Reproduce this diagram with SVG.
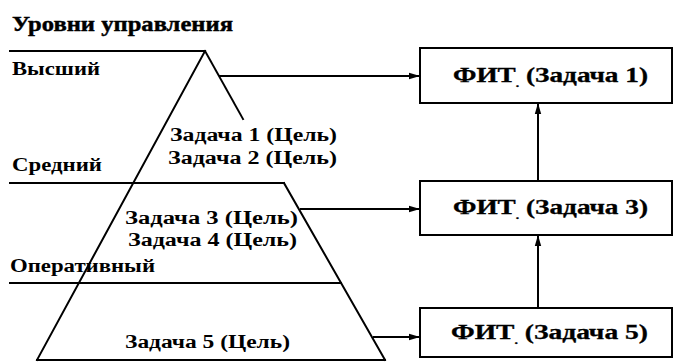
<svg xmlns="http://www.w3.org/2000/svg" width="677" height="363" viewBox="0 0 677 363">
  <style>
    .ln { stroke: #000; stroke-width: 2; fill: none; stroke-linecap: square; }
    .box { stroke: #000; stroke-width: 2; fill: #fff; }
    .lbl { font-family: "Liberation Serif", "Times New Roman", serif; font-size: 18px; font-weight: bold; fill: #000; }
    .task { font-family: "Liberation Serif", "Times New Roman", serif; font-size: 18px; font-weight: bold; fill: #000; }
    .ttl { font-family: "Liberation Serif", "Times New Roman", serif; font-size: 20px; font-weight: bold; fill: #000; stroke: #000; stroke-width: 0.4; }
    .bt { font-family: "Liberation Serif", "Times New Roman", serif; font-size: 20px; font-weight: bold; fill: #000; stroke: #000; stroke-width: 0.3; }
    .con { stroke: #000; stroke-width: 2; fill: none; }
  </style>
  <defs>
    <marker id="ah" markerUnits="userSpaceOnUse" markerWidth="12" markerHeight="8" refX="11" refY="4" orient="auto">
      <path d="M0,0.8 L11,4 L0,7.2 z" fill="#000"/>
    </marker>
  </defs>

  <rect width="677" height="363" fill="#fff"/>

  <!-- title -->
  <text class="ttl" x="12" y="31" textLength="221" lengthAdjust="spacingAndGlyphs">Уровни управления</text>

  <!-- pyramid of management levels -->
  <g id="pyramid">
    <line class="ln" x1="10" y1="51" x2="205" y2="51"/>
    <line class="ln" x1="205" y1="51" x2="37" y2="360"/>
    <line class="ln" x1="205" y1="51" x2="243" y2="119"/>
    <line class="ln" x1="10" y1="183" x2="284" y2="183"/>
    <line class="ln" x1="284" y1="183" x2="385" y2="360"/>
    <line class="ln" x1="10" y1="283" x2="341" y2="283"/>
    <line class="ln" x1="37" y1="360" x2="385" y2="360"/>

    <text class="lbl" x="12" y="75" textLength="88" lengthAdjust="spacingAndGlyphs">Высший</text>
    <text class="lbl" x="12" y="171" textLength="90" lengthAdjust="spacingAndGlyphs">Средний</text>
    <text class="lbl" x="10" y="272" textLength="145" lengthAdjust="spacingAndGlyphs">Оперативный</text>

    <text class="task" x="170" y="141" textLength="167" lengthAdjust="spacingAndGlyphs">Задача 1 (Цель)</text>
    <text class="task" x="168" y="164" textLength="169" lengthAdjust="spacingAndGlyphs">Задача 2 (Цель)</text>
    <text class="task" x="125" y="224" textLength="173" lengthAdjust="spacingAndGlyphs">Задача 3 (Цель)</text>
    <text class="task" x="128" y="246" textLength="169" lengthAdjust="spacingAndGlyphs">Задача 4 (Цель)</text>
    <text class="task" x="125" y="348" textLength="165" lengthAdjust="spacingAndGlyphs">Задача 5 (Цель)</text>
  </g>

  <!-- information technology blocks -->
  <g id="fit1">
    <rect class="box" x="420" y="48" width="252" height="55"/>
    <text class="bt" x="453" y="82" textLength="195" lengthAdjust="spacingAndGlyphs">ФИТ<tspan dy="5" font-size="10">.</tspan><tspan dy="-5"> (Задача 1)</tspan></text>
  </g>
  <g id="fit3">
    <rect class="box" x="420" y="181" width="252" height="54"/>
    <text class="bt" x="453" y="214" textLength="195" lengthAdjust="spacingAndGlyphs">ФИТ<tspan dy="5" font-size="10">.</tspan><tspan dy="-5"> (Задача 3)</tspan></text>
  </g>
  <g id="fit5">
    <rect class="box" x="420" y="308" width="252" height="49"/>
    <text class="bt" x="451" y="339" textLength="197" lengthAdjust="spacingAndGlyphs">ФИТ<tspan dy="5" font-size="10">.</tspan><tspan dy="-5"> (Задача 5)</tspan></text>
  </g>

  <!-- connectors -->
  <g id="connectors">
    <line class="con" x1="219" y1="76" x2="420" y2="76" marker-end="url(#ah)"/>
    <line class="con" x1="300" y1="209" x2="420" y2="209" marker-end="url(#ah)"/>
    <line class="con" x1="373" y1="337" x2="420" y2="337" marker-end="url(#ah)"/>
    <line class="con" x1="538" y1="181" x2="538" y2="103" marker-end="url(#ah)"/>
    <line class="con" x1="538" y1="308" x2="538" y2="235" marker-end="url(#ah)"/>
  </g>
</svg>
